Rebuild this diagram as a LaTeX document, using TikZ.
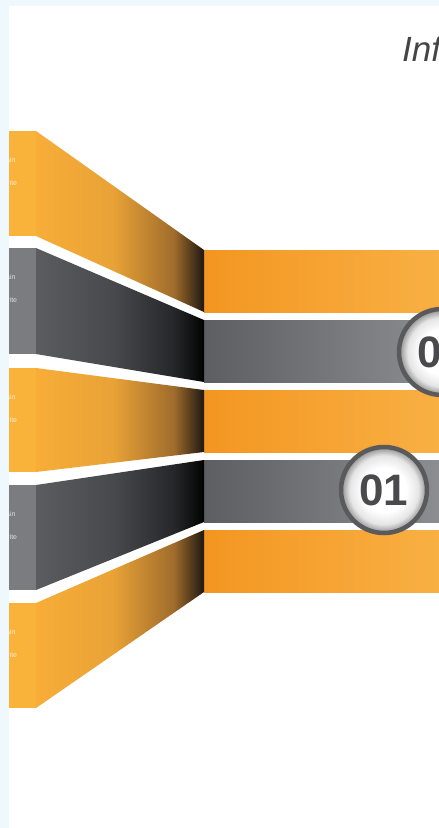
\documentclass[tikz,border=0pt]{standalone}
\usepackage{fontspec}
\setmainfont{Liberation Sans}
\definecolor{bgblue}{HTML}{EEF8FD}
\definecolor{ofront}{HTML}{F9B23A}
\definecolor{gfront}{HTML}{7B7C80}
\definecolor{osA}{HTML}{F8AD38}
\definecolor{osB}{HTML}{E8A236}
\definecolor{osC}{HTML}{A06C2C}
\definecolor{osD}{HTML}{1E1711}
\definecolor{gsA}{HTML}{5A5C60}
\definecolor{gsB}{HTML}{48494C}
\definecolor{gsC}{HTML}{26272A}
\definecolor{gsD}{HTML}{020202}
\definecolor{obL}{HTML}{F39621}
\definecolor{obR}{HTML}{F8B043}
\definecolor{gbL}{HTML}{5D5E62}
\definecolor{gbR}{HTML}{8C8D91}
\definecolor{ring}{HTML}{5A5A5C}
\definecolor{numgray}{HTML}{4A4A4C}
\definecolor{titlegray}{HTML}{454545}
\pgfdeclarehorizontalshading{oslant}{100bp}{color(0bp)=(osA); color(25bp)=(osA); color(48bp)=(osB); color(66bp)=(osC); color(75bp)=(osD); color(100bp)=(osD)}
\pgfdeclarehorizontalshading{gslant}{100bp}{color(0bp)=(gsA); color(25bp)=(gsA); color(48bp)=(gsB); color(66bp)=(gsC); color(75bp)=(gsD); color(100bp)=(gsD)}
\pgfdeclareradialshading{ball}{\pgfpoint{0bp}{0bp}}{color(0bp)=(white); color(13bp)=(white); color(20bp)=(black!10); color(24bp)=(black!38); color(25bp)=(black!45); color(50bp)=(black!45)}
\tikzset{
  oband/.style={left color=obL, right color=obR},
  gband/.style={left color=gbL, right color=gbR},
  oside/.style={shading=oslant},
  gside/.style={shading=gslant},
  tinytext/.style={font=\fontsize{7}{8}\selectfont, text=white, text opacity=0.75, anchor=west, inner sep=0pt},
  numcirc/.style={circle, minimum size=86pt, inner sep=0pt, draw=ring, line width=4.5pt,
    shading=ball, text=numgray,
    font=\bfseries\fontsize{44}{44}\selectfont},
}
\begin{document}
\begin{tikzpicture}[x=1pt,y=-1pt]
\useasboundingbox (0,0) rectangle (439,828);
\clip (0,0) rectangle (439,828);
\fill[white] (0,0) rectangle (439,828);

% right-hand bands
\shade[oband] (204,250) rectangle (439,312);
\shade[gband] (204,320) rectangle (439,382);
\shade[oband] (204,390) rectangle (439,452);
\shade[gband] (204,460) rectangle (439,522);
\shade[oband] (204,530) rectangle (439,592);

% slanted wall panels
\shade[oside] (36,131) -- (204,250) -- (204,312) -- (36,236) -- cycle;
\shade[gside] (36,248) -- (204,320) -- (204,382) -- (36,354) -- cycle;
\shade[oside] (36,368) -- (204,390) -- (204,452) -- (36,472) -- cycle;
\shade[gside] (36,485) -- (204,460) -- (204,522) -- (36,590) -- cycle;
\shade[oside] (36,603) -- (204,530) -- (204,592) -- (36,708) -- cycle;

% front faces
\fill[ofront] (0,131) rectangle (36,236);
\fill[gfront] (0,248) rectangle (36,354);
\fill[ofront] (0,368) rectangle (36,472);
\fill[gfront] (0,485) rectangle (36,590);
\fill[ofront] (0,603) rectangle (36,708);

% tiny texts on the front faces
\node[tinytext] (t1a) at (6,160) {ain};
\node[tinytext] (t1b) at (6,183) {vite};
\node[tinytext] (t2a) at (6,277) {ain};
\node[tinytext] (t2b) at (6,300) {vite};
\node[tinytext] (t3a) at (6,397) {ain};
\node[tinytext] (t3b) at (6,420) {vite};
\node[tinytext] (t4a) at (6,514) {ain};
\node[tinytext] (t4b) at (6,537) {vite};
\node[tinytext] (t5a) at (6,632) {ain};
\node[tinytext] (t5b) at (6,655) {vite};

% light blue frame
\fill[bgblue] (0,0) rectangle (9,828);
\fill[bgblue] (0,0) rectangle (439,6);

% number circles
\node[numcirc] (c2) at (442,352) {02};
\node[numcirc] (c1) at (384,490) {01};

% title
\node[anchor=base west, inner sep=0pt, text=titlegray, font=\itshape\fontsize{35}{35}\selectfont] (title) at (402,61) {Inf};
\end{tikzpicture}
\end{document}
